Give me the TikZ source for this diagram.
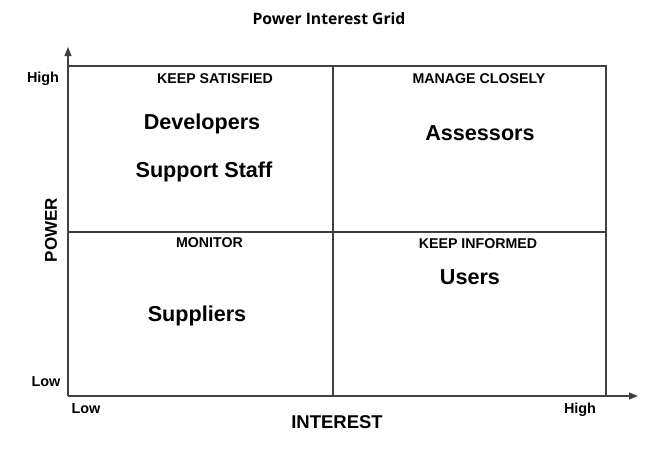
\documentclass[tikz,border=0pt]{standalone}
\usepackage{fontspec}
\setmainfont{Liberation Sans}
\newfontfamily\titlefont{Open Sans}
\usetikzlibrary{arrows.meta}
\begin{document}
\begin{tikzpicture}[x=1pt,y=-1pt,
  gridline/.style={draw=black!75, line width=1.2pt},
  axis/.style={draw=black!75, line width=1.2pt, -{Triangle[length=9pt,width=7pt]}},
  head/.style={font=\fontsize{14.2}{16}\selectfont\bfseries, inner sep=0pt},
  big/.style={font=\fontsize{21.6}{25}\selectfont\bfseries, inner sep=0pt},
  tick/.style={font=\fontsize{14.4}{16}\selectfont\bfseries, inner sep=0pt},
  axlabel/.style={font=\fontsize{18.5}{21}\selectfont\bfseries, inner sep=0pt}]
\useasboundingbox (0,0) rectangle (659,451);
% coordinates
\coordinate (o) at (68,396);
\coordinate (ytip) at (68,47);
\coordinate (xtip) at (638,396);
\coordinate (tl) at (68,66);
\coordinate (tr) at (606,66);
\coordinate (br) at (606,396);
\coordinate (mt) at (333,66);
\coordinate (mb) at (333,396);
\coordinate (ml) at (68,232);
\coordinate (mr) at (606,232);
% grid
\draw[gridline] (tl) -- (tr) -- (br);
\draw[gridline] (mt) -- (mb);
\draw[gridline] (ml) -- (mr);
\draw[axis] (o) -- (ytip);
\draw[axis] (o) -- (xtip);
% title
\node[font=\titlefont\fontsize{15.7}{18}\selectfont\bfseries, inner sep=0pt] (title) at (329,18.5) {Power Interest Grid};
% quadrant headings
\node[head] (ks) at (215,79) {KEEP SATISFIED};
\node[head] (mc) at (479,79) {MANAGE CLOSELY};
\node[head] (mo) at (209.5,243) {MONITOR};
\node[head] (ki) at (478,244) {KEEP INFORMED};
% stakeholders
\node[big] (dev) at (202,124) {Developers};
\node[big] (sup) at (204,172) {Support Staff};
\node[big] (ass) at (480,133) {Assessors};
\node[big] (usr) at (470,277) {Users};
\node[big] (spl) at (197,316) {Suppliers};
% axis ticks
\node[tick] (yh) at (43,79) {High};
\node[tick] (yl) at (46,382) {Low};
\node[tick] (xl) at (86,409) {Low};
\node[tick] (xh) at (580,410) {High};
% axis labels
\node[axlabel] (xi) at (337,422) {INTEREST};
\node[axlabel, font=\fontsize{17}{20}\selectfont\bfseries, rotate=90] (yp) at (51,230) {POWER};
\end{tikzpicture}
\end{document}
